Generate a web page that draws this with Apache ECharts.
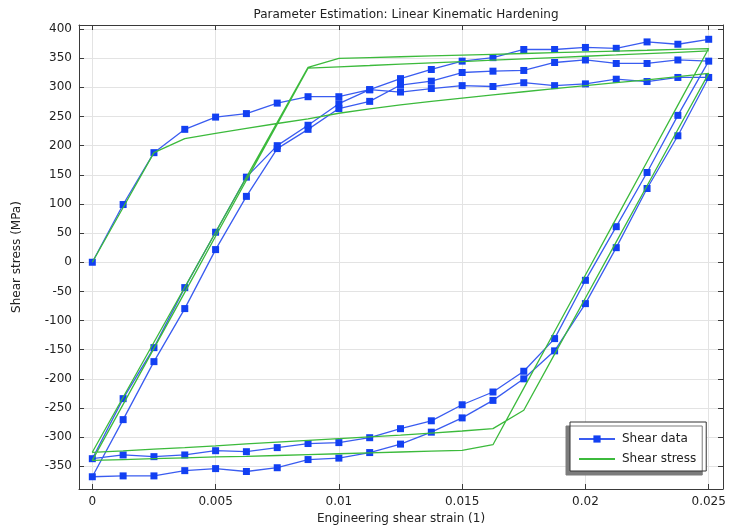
<!DOCTYPE html>
<html>
<head>
<meta charset="utf-8">
<script src="https://cdn.jsdelivr.net/npm/echarts@6/dist/echarts.min.js"></script>
<style>html,body{margin:0;padding:0;background:#fff}#c{width:730px;height:529px}</style>
</head>
<body>
<div id="c"></div>
<script>
// strain grid (engineering shear strain)
const strainGrid = [0, 0.00125, 0.0025, 0.00375, 0.005, 0.00625, 0.0075, 0.00875, 0.01, 0.01125, 0.0125,
  0.01375, 0.015, 0.01625, 0.0175, 0.01875, 0.02, 0.02125, 0.0225, 0.02375, 0.025];

// Shear data (MPa), each branch listed in increasing strain order
const dataLoad1   = [0, 99, 188, 228, 249, 255, 273, 284, 284, 296, 292, 298, 303, 301.5, 308, 303, 306, 314, 310, 317, 317];
const dataUnload1 = [-368, -366.5, -366.5, -357.5, -354, -359, -352.5, -338.5, -336, -326.5, -312, -291.5, -267, -237, -200, -152, -71, 25, 126.5, 217, 317];
const dataReload1 = [-368, -270, -170.5, -79.5, 21.7, 113, 195, 228, 263.7, 276, 304, 310.6, 325.5, 327.8, 329, 342.7, 347, 341, 341, 347, 345];
const dataUnload2 = [-337, -330.6, -333.5, -330.6, -323.3, -325, -318, -311, -309.4, -301, -285.5, -272, -244.5, -222.6, -187, -131, -31, 61, 154, 252, 345];
const dataReload2 = [-337, -234, -146.5, -43.5, 51.5, 146, 200, 235, 272, 296, 315, 330.7, 345, 351, 365, 365, 368.5, 367, 378, 374, 382.5];

// Shear stress (model, MPa), each branch listed in increasing strain order
const modelLoad1   = [0, 94, 188, 212, 221, 229.5, 238, 246, 255.6, 263, 270, 276, 281.5, 287, 292.5, 298, 303, 308, 313, 318.5, 324];
const modelUnload1 = [-326, -323.5, -320.5, -318, -315, -311.5, -308.5, -305.5, -302.5, -299.5, -296.5, -293, -289.5, -285.5, -254, -157.7, -61.3, 35, 131.3, 227.7, 324];
const modelReload1 = [-326, -231.6, -137.3, -42.9, 51.4, 145.8, 240.1, 334.5, 349.7, 351.1, 352.5, 353.9, 355.3, 356.7, 358.1, 359.5, 360.9, 362.3, 363.7, 365.2, 366.6];
const modelUnload2 = [-340, -338.5, -337, -335.5, -334, -333, -331.5, -330, -328.5, -327, -325.5, -324, -322.6, -313, -216, -118.9, -21.8, 75.3, 172.4, 269.5, 366.6];
const modelReload2 = [-340, -243.9, -147.7, -51.6, 44.6, 140.7, 236.9, 333, 335.3, 337.5, 339.8, 342, 344.3, 346.6, 348.8, 351.1, 353.4, 355.6, 357.9, 360.2, 362.5];

// tick labels
const xTicks = [0, 0.005, 0.01, 0.015, 0.02, 0.025];
const xTickLabels = ['0', '0.005', '0.01', '0.015', '0.02', '0.025'];
const yTicks = [-350, -300, -250, -200, -150, -100, -50, 0, 50, 100, 150, 200, 250, 300, 350, 400];
const yTickLabels = ['-350', '-300', '-250', '-200', '-150', '-100', '-50', '0', '50', '100', '150', '200', '250', '300', '350', '400'];

function buildPath(branches) {
  const out = [];
  branches.forEach(function (b, bi) {
    const vals = b[0], dir = b[1];
    const idx = [];
    for (let i = 0; i < strainGrid.length; i++) idx.push(i);
    if (dir === 'down') idx.reverse();
    idx.forEach(function (i, k) {
      if (bi > 0 && k === 0) return;
      out.push([strainGrid[i], vals[i]]);
    });
  });
  return out;
}

const bluePath = buildPath([[dataLoad1, 'up'], [dataUnload1, 'down'], [dataReload1, 'up'], [dataUnload2, 'down'], [dataReload2, 'up']]);
const greenPath = buildPath([[modelLoad1, 'up'], [modelUnload1, 'down'], [modelReload1, 'up'], [modelUnload2, 'down'], [modelReload2, 'up']]);

function lookup(ticks, labels) {
  return function (v) {
    for (let i = 0; i < ticks.length; i++) if (Math.abs(ticks[i] - v) < 1e-9) return labels[i];
    return '';
  };
}

const FONT = 'DejaVu Sans';
const TXT = '#222';
const AX = '#3a3a3a';
const X_MIN = -0.00054, X_MAX = 0.02558, Y_MIN = -389, Y_MAX = 407;

const chart = echarts.init(document.getElementById('c'), null, { renderer: 'canvas' });
chart.setOption({
  animation: false,
  backgroundColor: '#fff',
  textStyle: { fontFamily: FONT },
  title: {
    text: 'Parameter Estimation: Linear Kinematic Hardening',
    left: 401, top: 4, textAlign: 'center',
    textStyle: { fontFamily: FONT, fontSize: 12, fontWeight: 'normal', color: TXT }
  },
  grid: { left: 79, right: 7, top: 25, bottom: 40, containLabel: false, outerBoundsMode: 'none' },
  legend: {
    orient: 'vertical', left: 570, top: 422,
    padding: [11, 10, 6, 8], itemGap: 8,
    itemWidth: 36, itemHeight: 9,
    backgroundColor: '#fff', borderColor: '#333', borderWidth: 1,
    shadowColor: '#7c7c7c', shadowBlur: 0, shadowOffsetX: -4, shadowOffsetY: 4,
    textStyle: { fontFamily: FONT, fontSize: 12, color: TXT, padding: [0, 0, 0, 2] },
    data: ['Shear data', { name: 'Shear stress', itemStyle: { opacity: 0 } }]
  },
  xAxis: [{
    type: 'value', min: X_MIN, max: X_MAX,
    name: 'Engineering shear strain (1)', nameLocation: 'middle', nameGap: 24,
    nameTextStyle: { fontFamily: FONT, fontSize: 12, color: TXT },
    axisLine: { show: true, onZero: false, lineStyle: { color: AX, width: 1 } },
    axisTick: { show: true, inside: true, length: 5, customValues: xTicks, lineStyle: { color: AX } },
    axisLabel: { customValues: xTicks, formatter: lookup(xTicks, xTickLabels), margin: 7, fontFamily: FONT, fontSize: 12, color: TXT },
    splitLine: { show: true, lineStyle: { color: '#e3e3e3', width: 1 } }
  }, {
    type: 'value', position: 'top', min: X_MIN, max: X_MAX,
    axisLine: { show: true, onZero: false, lineStyle: { color: AX, width: 1 } },
    axisTick: { show: true, inside: true, length: 5, customValues: xTicks, lineStyle: { color: AX } },
    axisLabel: { show: false },
    splitLine: { show: false }
  }],
  yAxis: [{
    type: 'value', min: Y_MIN, max: Y_MAX,
    name: 'Shear stress (MPa)', nameLocation: 'middle', nameGap: 56,
    nameTextStyle: { fontFamily: FONT, fontSize: 12, color: TXT },
    axisLine: { show: true, onZero: false, lineStyle: { color: AX, width: 1 } },
    axisTick: { show: true, inside: true, length: 5, customValues: yTicks, lineStyle: { color: AX } },
    axisLabel: { customValues: yTicks, formatter: lookup(yTicks, yTickLabels), margin: 7, fontFamily: FONT, fontSize: 12, color: TXT },
    splitLine: { show: true, lineStyle: { color: '#e3e3e3', width: 1 } }
  }, {
    type: 'value', position: 'right', min: Y_MIN, max: Y_MAX,
    axisLine: { show: true, onZero: false, lineStyle: { color: AX, width: 1 } },
    axisTick: { show: true, inside: true, length: 5, customValues: yTicks, lineStyle: { color: AX } },
    axisLabel: { show: false },
    splitLine: { show: false }
  }],
  series: [{
    name: 'Shear data', type: 'line', xAxisIndex: 0, yAxisIndex: 0,
    data: bluePath,
    symbol: 'rect', symbolSize: 7, showAllSymbol: true,
    itemStyle: { color: '#1240f2' },
    lineStyle: { color: '#3a5cf0', width: 1.3 },
    emphasis: { disabled: true }, z: 3
  }, {
    name: 'Shear stress', type: 'line', xAxisIndex: 0, yAxisIndex: 0,
    data: greenPath,
    symbol: 'none',
    itemStyle: { color: '#3cba3c' },
    lineStyle: { color: '#3cba3c', width: 1.3 },
    emphasis: { disabled: true }, z: 4
  }]
});
</script>
</body>
</html>
